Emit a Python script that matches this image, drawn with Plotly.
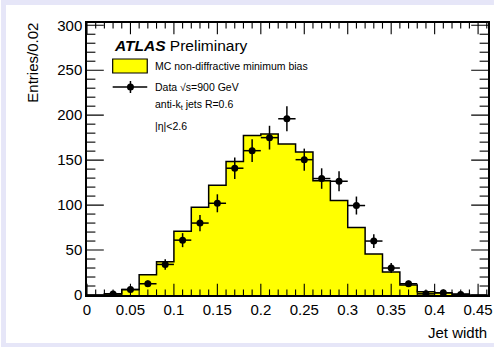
import plotly.graph_objects as go

# MC histogram: bin left edges (width 0.02) and contents
mc_edges = [0.00, 0.02, 0.04, 0.06, 0.08, 0.10, 0.12, 0.14, 0.16, 0.18, 0.20,
            0.22, 0.24, 0.26, 0.28, 0.30, 0.32, 0.34, 0.36, 0.38, 0.40, 0.42, 0.44, 0.46]
mc_values = [0, 1.5, 6, 22.5, 37, 71, 97.5, 122, 148.5, 177.5, 179,
             168, 159, 127, 105, 75, 45.5, 25.5, 11, 3.5, 2.4, 1, 0]

# Data points (bin centres)
data_x = [0.03, 0.05, 0.07, 0.09, 0.11, 0.13, 0.15, 0.17, 0.19, 0.21, 0.23,
          0.25, 0.27, 0.29, 0.31, 0.33, 0.35, 0.37, 0.39, 0.41, 0.43]
data_y = [1, 6, 12.5, 34, 61, 80, 102, 141, 160.5, 175, 196,
          150.5, 129.5, 126.5, 99.5, 60, 30, 12.5, 1.3, 2.4, 0.5]
data_err = [1, 2.5, 3.5, 5.8, 7.8, 9, 10, 12, 12.7, 13.2, 14,
            12.3, 11.4, 11.2, 10, 7.7, 5.5, 3.5, 1.1, 1.5, 0.7]
data_xerr = [0.01] * len(data_x)

x_ticks = [0, 0.05, 0.1, 0.15, 0.2, 0.25, 0.3, 0.35, 0.4, 0.45]
x_ticklabels = ["0", "0.05", "0.1", "0.15", "0.2", "0.25", "0.3", "0.35", "0.4", "0.45"]
y_ticks = [0, 50, 100, 150, 200, 250, 300]
y_ticklabels = ["0", "50", "100", "150", "200", "250", "300"]

X_RANGE = [0, 0.4614]
Y_RANGE = [0, 302.5]

# minor tick positions (every 0.01 in x, every 10 in y), majors excluded
x_minor = [round(i * 0.01, 2) for i in range(47) if i % 5 != 0]
y_minor = [i * 10 for i in range(31) if i % 5 != 0]

FONT = "Liberation Sans, Arial, Helvetica, sans-serif"

fig = go.Figure()

fig.add_trace(go.Scatter(
    x=mc_edges,
    y=mc_values + [mc_values[-1]],
    mode="lines",
    line=dict(shape="hv", color="black", width=1.5),
    fill="tozeroy",
    fillcolor="#ffff00",
    showlegend=False,
    hoverinfo="skip",
))

fig.add_trace(go.Scatter(
    x=data_x,
    y=data_y,
    mode="markers",
    marker=dict(color="black", size=7, symbol="circle"),
    error_y=dict(type="data", array=data_err, color="black", thickness=1.5, width=0),
    error_x=dict(type="data", array=data_xerr, color="black", thickness=1.5, width=0),
    showlegend=False,
))

# Tick marks drawn as clipped line markers on all four frame sides (inside ticks)
def tick_trace(xs, ys, symbol, size):
    return go.Scatter(
        x=xs, y=ys, mode="markers", cliponaxis=True, showlegend=False, hoverinfo="skip",
        marker=dict(symbol=symbol, size=size, color="black", line=dict(color="black", width=1.1)),
    )

for yv in Y_RANGE:
    fig.add_trace(tick_trace(x_ticks, [yv] * len(x_ticks), "line-ns", 16))
    fig.add_trace(tick_trace(x_minor, [yv] * len(x_minor), "line-ns", 8))
for xv in X_RANGE:
    fig.add_trace(tick_trace([xv] * len(y_ticks), y_ticks, "line-ew", 24))
    fig.add_trace(tick_trace([xv] * len(y_minor), y_minor, "line-ew", 12))

L, R, T, B = 87, 6, 23, 52
W, H = 499, 347
pw = W - L - R
ph = H - T - B

def px(xp):
    return (xp - L) / pw

def py(yp):
    return (H - B - yp) / ph

shapes = [
    # lavender border strips (left, top, bottom)
    dict(type="rect", xref="paper", yref="paper", x0=px(0), x1=px(5), y0=py(347), y1=py(0),
         fillcolor="#e6e6f8", line=dict(width=0), layer="below"),
    dict(type="rect", xref="paper", yref="paper", x0=px(0), x1=px(499), y0=py(5), y1=py(0),
         fillcolor="#e6e6f8", line=dict(width=0), layer="below"),
    dict(type="rect", xref="paper", yref="paper", x0=px(0), x1=px(499), y0=py(347), y1=py(343),
         fillcolor="#e6e6f8", line=dict(width=0), layer="below"),
    # legend: MC box
    dict(type="rect", xref="paper", yref="paper", x0=px(113), x1=px(148), y0=py(73), y1=py(59),
         fillcolor="#ffff00", line=dict(color="black", width=1.2)),
    # legend: data line
    dict(type="line", xref="paper", yref="paper", x0=px(113), x1=px(148), y0=py(87), y1=py(87),
         line=dict(color="black", width=1.5)),
    dict(type="line", xref="paper", yref="paper", x0=px(131), x1=px(131), y0=py(81), y1=py(93),
         line=dict(color="black", width=1.5)),
    dict(type="circle", xref="paper", yref="paper", xsizemode="pixel", ysizemode="pixel",
         xanchor=px(131), yanchor=py(87), x0=-3.5, x1=3.5, y0=-3.5, y1=3.5,
         fillcolor="black", line=dict(color="black", width=0)),
]

annotations = [
    dict(text="<b><i>ATLAS</i></b> Preliminary", x=px(112), y=py(45), xref="paper", yref="paper",
         xanchor="left", yanchor="middle", showarrow=False, font=dict(size=15.5, family=FONT, color="black")),
    dict(text="MC non-diffractive minimum bias", x=px(154), y=py(66), xref="paper", yref="paper",
         xanchor="left", yanchor="middle", showarrow=False, font=dict(size=10.5, family=FONT, color="black")),
    dict(text="Data √s=900 GeV", x=px(154), y=py(87), xref="paper", yref="paper",
         xanchor="left", yanchor="middle", showarrow=False, font=dict(size=10.5, family=FONT, color="black")),
    dict(text="anti-k<sub>t</sub> jets R=0.6", x=px(154), y=py(105), xref="paper", yref="paper",
         xanchor="left", yanchor="middle", showarrow=False, font=dict(size=10.5, family=FONT, color="black")),
    dict(text="|η|<2.6", x=px(154), y=py(126), xref="paper", yref="paper",
         xanchor="left", yanchor="middle", showarrow=False, font=dict(size=10.5, family=FONT, color="black")),
    dict(text="Entries/0.02", x=px(31), y=py(21), xref="paper", yref="paper", textangle=-90,
         xanchor="center", yanchor="top", showarrow=False, font=dict(size=15, family=FONT, color="black")),
    dict(text="Jet width", x=px(494), y=py(332), xref="paper", yref="paper",
         xanchor="right", yanchor="middle", showarrow=False, font=dict(size=15, family=FONT, color="black")),
]

fig.update_layout(
    width=W, height=H,
    margin=dict(l=L, r=R, t=T, b=B, pad=0),
    paper_bgcolor="white",
    plot_bgcolor="white",
    shapes=shapes,
    annotations=annotations,
    font=dict(family=FONT, size=15, color="black"),
    xaxis=dict(
        range=X_RANGE, tickmode="array", tickvals=x_ticks, ticktext=x_ticklabels,
        ticks="", showline=True, linecolor="black", linewidth=1.5, mirror=True,
        showgrid=False, zeroline=False,
        tickfont=dict(size=15, family=FONT, color="black"),
    ),
    yaxis=dict(
        range=Y_RANGE, tickmode="array", tickvals=y_ticks, ticktext=y_ticklabels,
        ticks="", showline=True, linecolor="black", linewidth=1.5, mirror=True,
        showgrid=False, zeroline=False,
        tickfont=dict(size=15, family=FONT, color="black"),
    ),
)

fig.write_html("out.html")
